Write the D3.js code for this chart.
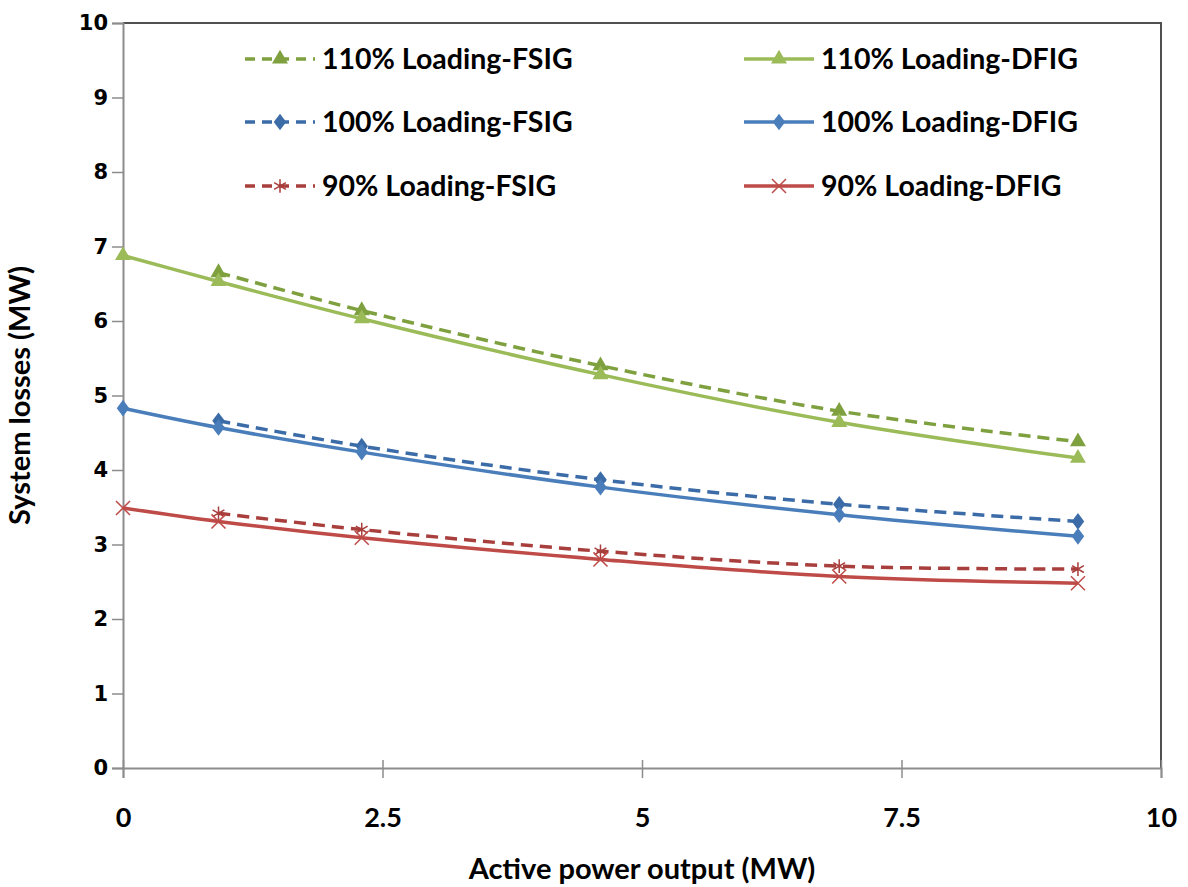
<!DOCTYPE html>
<html>
<head>
<meta charset="utf-8">
<script src="https://cdn.jsdelivr.net/npm/d3@7.9.0/dist/d3.min.js"></script>
<style>
  body { margin: 0; background: #fff; }
  svg { display: block; }
</style>
</head>
<body>
<svg id="chart" width="1188" height="887"></svg>
<script>
// Data
const powerDFIG = [0, 0.92, 2.3, 4.6, 6.9, 9.2];
const powerFSIG = [0.92, 2.3, 4.6, 6.9, 9.2];

const loss110DFIG = [6.88, 6.53, 6.03, 5.28, 4.64, 4.16];
const loss110FSIG = [6.65, 6.14, 5.40, 4.79, 4.38];
const loss100DFIG = [4.83, 4.57, 4.24, 3.77, 3.40, 3.11];
const loss100FSIG = [4.66, 4.32, 3.87, 3.54, 3.31];
const loss90DFIG = [3.49, 3.31, 3.09, 2.80, 2.57, 2.48];
const loss90FSIG = [3.42, 3.20, 2.91, 2.71, 2.67];

const xTicks = [0, 2.5, 5, 7.5, 10];
const yTicks = [0, 1, 2, 3, 4, 5, 6, 7, 8, 9, 10];

const series = [
  { name: '110% Loading-FSIG', x: powerFSIG, y: loss110FSIG, color: '#7FA03F', dash: '12,7', marker: 'triangle', col: 0, row: 0 },
  { name: '110% Loading-DFIG', x: powerDFIG, y: loss110DFIG, color: '#9BBB59', dash: null, marker: 'triangle', col: 1, row: 0 },
  { name: '100% Loading-FSIG', x: powerFSIG, y: loss100FSIG, color: '#3C6CA8', dash: '12,7', marker: 'diamond', col: 0, row: 1 },
  { name: '100% Loading-DFIG', x: powerDFIG, y: loss100DFIG, color: '#4A7EBB', dash: null, marker: 'diamond', col: 1, row: 1 },
  { name: '90% Loading-FSIG', x: powerFSIG, y: loss90FSIG, color: '#A83F3C', dash: '12,7', marker: 'star', col: 0, row: 2 },
  { name: '90% Loading-DFIG', x: powerDFIG, y: loss90DFIG, color: '#BE4B48', dash: null, marker: 'cross', col: 1, row: 2 }
];

const svg = d3.select('#chart');
const margin = { left: 123, right: 1161, top: 23, bottom: 768 };

const x = d3.scaleLinear().domain([0, 10]).range([margin.left, margin.right]);
const y = d3.scaleLinear().domain([0, 10]).range([margin.bottom, margin.top]);

// Plot area border (top and right)
svg.append('path')
  .attr('d', `M${x(0)},${y(10)}H${x(10)}V${y(0)}`)
  .attr('fill', 'none')
  .attr('stroke', '#505050')
  .attr('stroke-width', 2);

// Y axis
const yAxis = svg.append('g')
  .attr('transform', `translate(${x(0)},0)`)
  .call(d3.axisLeft(y).tickValues(yTicks).tickSize(11).tickPadding(4).tickFormat(d3.format('d')));
yAxis.select('.domain').attr('stroke', '#8c8c8c').attr('stroke-width', 2);
yAxis.selectAll('.tick line').attr('stroke', '#8c8c8c').attr('stroke-width', 1.5);
yAxis.selectAll('.tick text')
  .attr('fill', '#000')
  .style('font-family', '"DejaVu Sans", Verdana, sans-serif')
  .style('font-weight', 'bold')
  .style('font-size', '21px');

// X axis
const xAxis = svg.append('g')
  .attr('transform', `translate(0,${y(0)})`)
  .call(d3.axisBottom(x).tickValues(xTicks).tickSize(10).tickPadding(30).tickFormat(d => d));
xAxis.select('.domain').attr('stroke', '#8c8c8c').attr('stroke-width', 2);
xAxis.selectAll('.tick line').attr('stroke', '#8c8c8c').attr('stroke-width', 1.5).attr('y1', -8);
xAxis.selectAll('.tick text')
  .attr('fill', '#000')
  .style('font-family', 'Lato, "Open Sans", sans-serif')
  .style('font-weight', 'bold')
  .style('font-size', '27px');

// Axis titles
svg.append('text')
  .attr('x', x(5))
  .attr('y', 879)
  .attr('text-anchor', 'middle')
  .style('font-family', 'Lato, "Open Sans", sans-serif')
  .style('font-weight', 'bold')
  .style('font-size', '29px')
  .text('Active power output (MW)');

svg.append('text')
  .attr('transform', `translate(30,${y(5)}) rotate(-90)`)
  .attr('text-anchor', 'middle')
  .style('font-family', 'Lato, "Open Sans", sans-serif')
  .style('font-weight', 'bold')
  .style('font-size', '29px')
  .text('System losses (MW)');

// Markers
function drawMarker(g, type, cx, cy, color) {
  if (type === 'triangle') {
    g.append('path')
      .attr('d', d3.symbol(d3.symbolTriangle, 110)())
      .attr('transform', `translate(${cx},${cy})`)
      .attr('fill', color);
  } else if (type === 'diamond') {
    g.append('path')
      .attr('d', d3.symbol(d3.symbolDiamond, 80)())
      .attr('transform', `translate(${cx},${cy}) scale(1.3,1)`)
      .attr('fill', color);
  } else if (type === 'star') {
    g.append('path')
      .attr('d', d3.symbol(d3.symbolAsterisk, 130)())
      .attr('transform', `translate(${cx},${cy})`)
      .attr('fill', 'none')
      .attr('stroke', color)
      .attr('stroke-width', 1.5);
  } else if (type === 'cross') {
    g.append('path')
      .attr('d', d3.symbol(d3.symbolTimes, 130)())
      .attr('transform', `translate(${cx},${cy})`)
      .attr('fill', 'none')
      .attr('stroke', color)
      .attr('stroke-width', 1.5);
  }
}

const line = d3.line()
  .x(d => x(d[0]))
  .y(d => y(d[1]))
  .curve(d3.curveCatmullRom.alpha(0.5));

const plot = svg.append('g');
series.forEach(s => {
  const pts = s.x.map((v, i) => [v, s.y[i]]);
  plot.append('path')
    .datum(pts)
    .attr('d', line)
    .attr('fill', 'none')
    .attr('stroke', s.color)
    .attr('stroke-width', 3.5)
    .attr('stroke-dasharray', s.dash);
  pts.forEach(p => drawMarker(plot, s.marker, x(p[0]), y(p[1]), s.color));
});

// Legend
const legend = svg.append('g');
const colX = [245, 744];
const rowY = [59, 122, 186];
series.forEach(s => {
  const lx = colX[s.col];
  const ly = rowY[s.row];
  legend.append('line')
    .attr('x1', lx).attr('x2', lx + 70)
    .attr('y1', ly).attr('y2', ly)
    .attr('stroke', s.color)
    .attr('stroke-width', 3.5)
    .attr('stroke-dasharray', s.dash ? '10,7' : null);
  drawMarker(legend, s.marker, lx + 35, ly, s.color);
  legend.append('text')
    .attr('x', lx + 77)
    .attr('y', ly)
    .attr('dy', '0.36em')
    .style('font-family', 'Lato, "Open Sans", sans-serif')
    .style('font-weight', 'bold')
    .style('font-size', '28.5px')
    .text(s.name);
});
</script>
</body>
</html>
